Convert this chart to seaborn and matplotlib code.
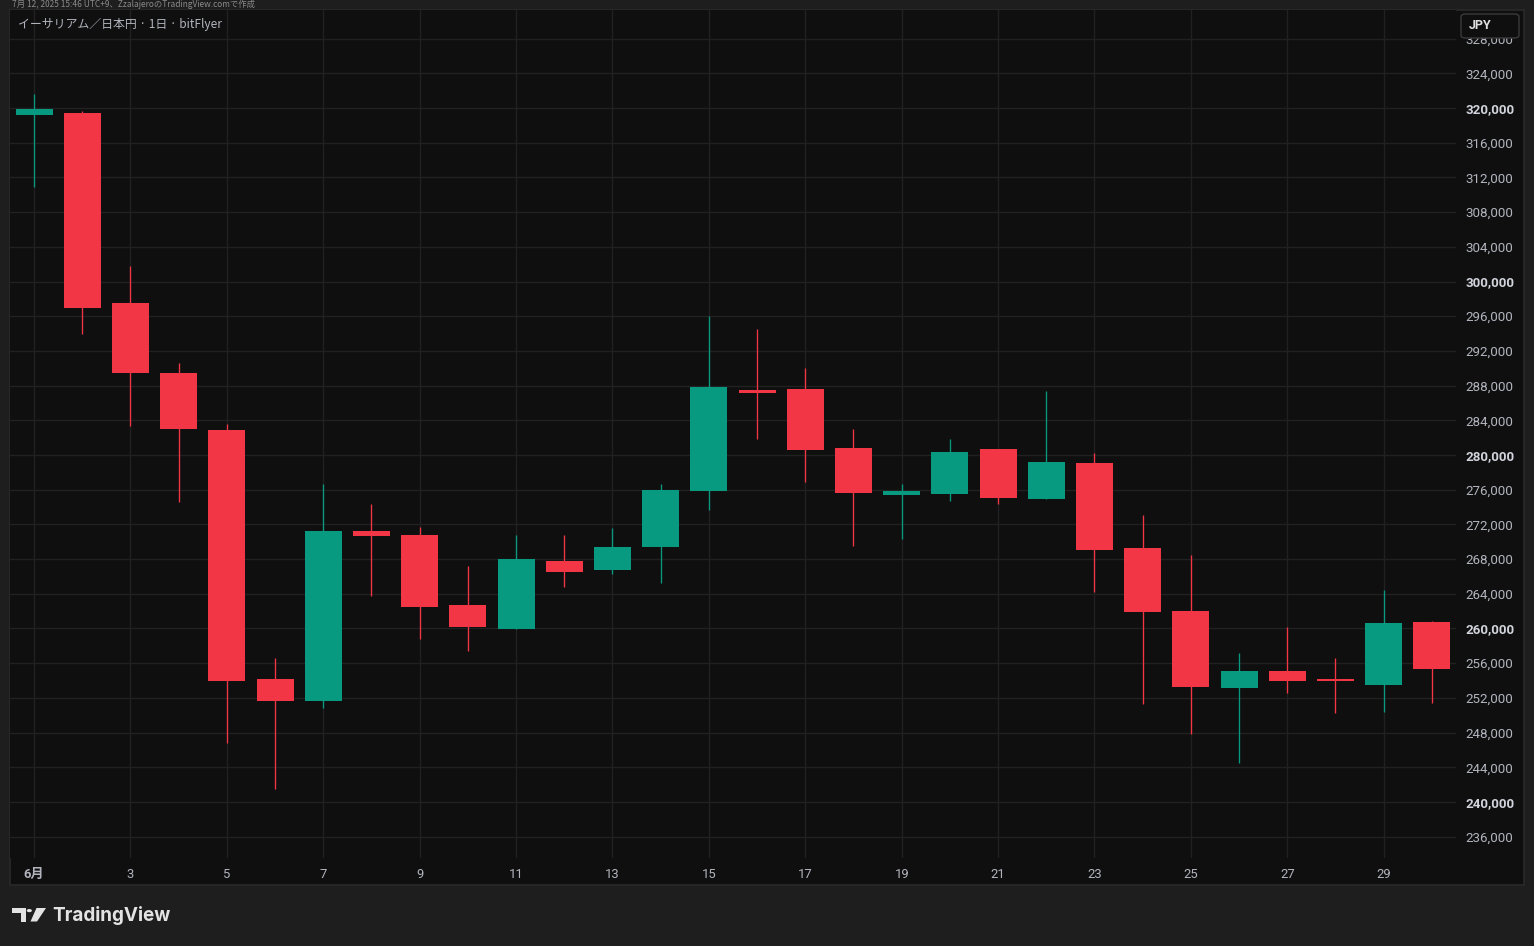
import matplotlib
matplotlib.use("Agg")
import matplotlib.pyplot as plt
from matplotlib.patches import Rectangle, FancyBboxPatch, Polygon, Circle
import numpy as np
import pandas as pd
import seaborn as sns

# ==================== データ（ETH/JPY 日足, 2025年6月） ====================
days = list(range(1, 31))
open_ = [319200, 319400, 297500, 289500, 282900, 254200, 251600, 271200, 270800, 262700,
         259900, 267800, 266700, 269400, 275900, 287500, 287600, 280800, 275400, 275500,
         280700, 274900, 279100, 269300, 262000, 253100, 255100, 254200, 253500, 260800]
high = [321600, 319650, 301800, 290600, 283600, 256600, 276700, 274400, 271700, 267200,
        270800, 270800, 271600, 276700, 296000, 294500, 290000, 283000, 276700, 281800,
        280700, 287400, 280200, 273100, 268500, 257200, 260200, 256600, 264400, 260900]
low = [310900, 293900, 283300, 274600, 246800, 241500, 250800, 263700, 258800, 257400,
       259900, 264800, 266300, 265300, 273700, 281800, 276900, 269500, 270300, 274700,
       274400, 274900, 264200, 251300, 247800, 244500, 252600, 250300, 250400, 251400]
close = [319900, 296900, 289500, 283000, 253900, 251600, 271200, 270700, 262500, 260200,
         268000, 266500, 269400, 276000, 287800, 287100, 280600, 275600, 275900, 280300,
         275000, 279200, 269100, 261900, 253300, 255100, 254000, 253900, 260600, 255300]

x_ticks = list(range(1, 30, 2))
x_labels = ["6月"] + [str(d) for d in range(3, 30, 2)]
y_ticks = list(range(236000, 328001, 4000))
y_bold = [240000, 260000, 280000, 300000, 320000]

title = "イーサリアム／日本円 · 1日 · bitFlyer"
stamp = "7月 12, 2025 15:46 UTC+9、ZzalajeroのTradingView.comで作成"
currency = "JPY"
brand = "TradingView"

df = pd.DataFrame({"day": days, "open": open_, "high": high, "low": low, "close": close})
df["up"] = df["close"] >= df["open"]

# ==================== スタイル ====================
UP, DOWN = "#089981", "#F23645"
OUTER, PANEL, GRID = "#1e1e1e", "#0f0f0f", "#212121"

sns.set_theme(style="dark", rc={
    "axes.facecolor": PANEL,
    "figure.facecolor": OUTER,
    "axes.edgecolor": PANEL,
    "text.color": "#d1d4dc",
})
plt.rcParams['font.family'] = ['Roboto', 'Noto Sans CJK JP', 'DejaVu Sans']
plt.rcParams['axes.unicode_minus'] = False

W, H = 1534, 946
fig = plt.figure(figsize=(W / 100, H / 100), dpi=100)


def fx(px):
    return px / W


def fy(py):
    return 1 - py / H


# 背景パネル
fig.patches.append(Rectangle((fx(10), fy(885)), fx(1514), 875 / H, transform=fig.transFigure,
                             facecolor=PANEL, edgecolor="#2a2a2a", lw=1.2, zorder=-1))

ax = fig.add_axes([fx(10), fy(858), fx(1446), 848 / H])
ax.set_facecolor(PANEL)

# ==================== ローソク足 ====================
colors = [UP if u else DOWN for u in df["up"]]
body = (df["close"] - df["open"]).to_numpy().astype(float)
body = np.where(np.abs(body) < 250, np.where(body >= 0, 250, -250), body)  # 十字線も最低限の太さ
ax.vlines(df["day"], df["low"], df["high"], colors=colors, lw=0.95, zorder=2)
ax.bar(df["day"], body, bottom=df["open"], width=0.77, color=colors, lw=0, zorder=3)

# 目盛り（set_ticks の後に範囲を指定）
ax.set_xticks(x_ticks)
ax.set_xticklabels(x_labels)
ax.set_yticks(y_ticks)
ax.set_yticklabels([f"{v:,}" for v in y_ticks])
ax.set_xlim(0.5, 30.5)
ax.set_ylim(233540, 331300)

ax.grid(True, color=GRID, lw=1.0)
ax.set_axisbelow(True)
for s in ax.spines.values():
    s.set_visible(False)

ax.yaxis.tick_right()
ax.tick_params(axis="y", length=0, pad=7, labelsize=9.6, labelcolor="#b2b5be")
ax.tick_params(axis="x", length=0, pad=7, labelsize=9.4, labelcolor="#b2b5be")
for lab, v in zip(ax.get_yticklabels(), y_ticks):
    if v in y_bold:
        lab.set_fontweight("bold")
        lab.set_color("#d1d4dc")
ax.get_xticklabels()[0].set_fontweight("bold")

# ==================== テキスト ====================
fig.text(fx(18), fy(24), title, fontsize=8.6, color="#b2b5be", va="center", ha="left",
         family=['Noto Sans CJK JP', 'DejaVu Sans'])
fig.text(fx(12), fy(4.5), stamp, fontsize=6.0, color="#8a8a8a", va="center", ha="left",
         family=['Noto Sans CJK JP', 'DejaVu Sans'])

# 通貨ボックス
fig.patches.append(FancyBboxPatch((fx(1461), fy(38)), fx(58), 24 / H, transform=fig.transFigure,
                                  boxstyle="round,pad=0,rounding_size=0.003",
                                  facecolor=PANEL, edgecolor="#3a3a3a", lw=1.0, zorder=5))
fig.text(fx(1469), fy(25.5), currency, fontsize=9, fontweight="bold", color="#e0e0e0",
         va="center", ha="left", zorder=6)

# TradingView ロゴ
logo = "#e3e3e3"
fig.patches.append(Polygon([(fx(12.3), fy(908)), (fx(25.7), fy(908)), (fx(25.7), fy(921.5)),
                            (fx(20.7), fy(921.5)), (fx(20.7), fy(913)), (fx(12.3), fy(913))],
                           closed=True, transform=fig.transFigure, color=logo, lw=0))
fig.patches.append(Circle((fx(29.3), fy(910.6)), 2.6 / W, transform=fig.transFigure, color=logo, lw=0))
fig.patches.append(Polygon([(fx(36.5), fy(908)), (fx(46), fy(908)), (fx(37), fy(921.5)), (fx(30.5), fy(921.5))],
                           closed=True, transform=fig.transFigure, color=logo, lw=0))
fig.text(fx(52), fy(915.5), brand, fontsize=13.6, fontweight="bold", color=logo,
         va="center", ha="left", family=['Inter', 'DejaVu Sans'])

fig.savefig("out.png", dpi=100, facecolor=OUTER)
